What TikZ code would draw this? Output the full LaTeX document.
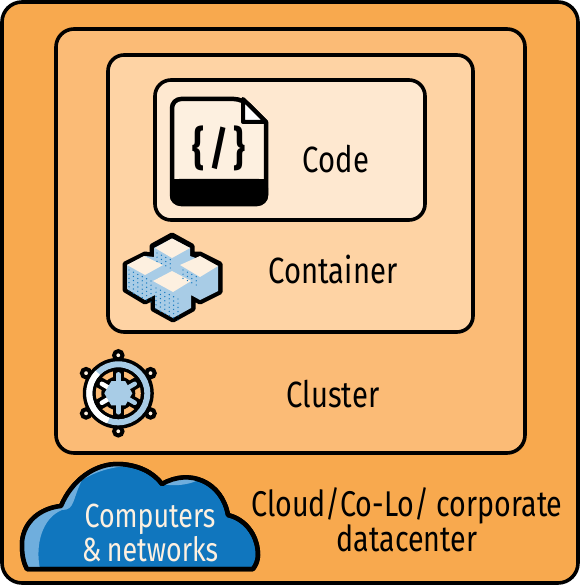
\documentclass[tikz,border=0pt]{standalone}
\usepackage{fontspec}
\usetikzlibrary{calc}
\setmainfont[FakeStretch=0.8]{Fira Sans}
\definecolor{cOuter}{HTML}{F8A94E}
\definecolor{cCluster}{HTML}{FBBB76}
\definecolor{cContainer}{HTML}{FED3A4}
\definecolor{cCode}{HTML}{FEE8D0}
\definecolor{cCream}{HTML}{FDF0E0}
\definecolor{cIce}{HTML}{A8CCE6}
\definecolor{cBlue}{HTML}{1076BE}
\definecolor{cDither}{HTML}{6FAEDD}
\tikzset{
  panel/.style={draw=black,line width=3.6pt,rounded corners=#1},
  lbl/.style={font=\fontsize{36.5}{38}\selectfont,text=black,inner sep=0pt,align=center},
  cubetop/.style={fill=cCream},
  knob/.style={draw=black,line width=4pt,fill=cCream},
  spoke/.style={line width=11pt,draw=black},
  spokein/.style={line width=4.5pt,draw=cIce,line cap=round}
}
\begin{document}
\begin{tikzpicture}[x=1pt,y=-1pt]
\useasboundingbox (0,0) rectangle (581,585);
\fill[white] (0,0) rectangle (581,585);
\draw[panel=20pt,fill=cOuter] (2,2) rectangle (578,583);
\draw[panel=18pt,fill=cCluster] (56,29) rectangle (525,453);
\draw[panel=16pt,fill=cContainer] (108,55) rectangle (473,332);
\draw[panel=16pt,fill=cCode] (155,80) rectangle (425,220);
% document icon
\draw[fill=cCream,draw=black,line width=4.5pt,line join=round,rounded corners=9pt]
  (172,179) -- (172,99) -- (243,99) [sharp corners] -- (266,122) [rounded corners=9pt] -- (266,204) -- (172,204) -- cycle;
\fill[black,rounded corners=9pt] (170,179) -- (268,179) -- (268,205) -- (170,205) -- cycle;
\fill[black] (170,179) rectangle (268,190);
\draw[fill=white,draw=black,line width=4pt,line join=round] (243,99) -- (243,122) -- (266,122) -- cycle;
\node[inner sep=0pt,font=\fontsize{46}{48}\selectfont\bfseries] (codeglyph) at (219,148) {\{\hspace{5pt}/\hspace{5pt}\}};
\node[lbl] (code) at (336,159) {Code};
\node[lbl] (container) at (333,269) {Container};
\node[lbl] (cluster) at (333,394) {Cluster};
% container icon
\fill[black,line join=round,draw=black,line width=5pt]
 (172,235)--(192,246)--(192,254)--(200,254)--(220,264)--(220,292)--(200,302)--(193,298)--(193,309)--(173,320)--(153,309)--(153,298)--(145,302)--(125,290)--(125,264)--(145,254)--(152,255)--(152,246)--cycle;
\fill[cIce] (172,238.5)--(190,248)--(190,256)--(218,266)--(218,291)--(200,300)--(191,295)--(191,308)--(173,318)--(155,308)--(155,295)--(145,300)--(127,289)--(127,265)--(145,256)--(154,257)--(154,248)--cycle;
\fill[cubetop] (172,238.5)--(190,248)--(172,258)--(155,248)--cycle;
\fill[cubetop] (144,256)--(163,265)--(145,275)--(127,265)--cycle;
\fill[cubetop] (200,256)--(218,266)--(200,277)--(180,265)--cycle;
\fill[cubetop] (172,271)--(191,281)--(173,292)--(153,281)--cycle;
\foreach \x in {0,...,5}\foreach \y in {0,...,5}{
  \fill[cBlue] ({129+\x*4.4},{270+\y*4.2+\x*2.2}) circle (0.7pt);
  \fill[cBlue] ({156+\x*4.4},{288+\y*4.2+\x*2.2}) circle (0.7pt);
}
\foreach \x in {0,...,3}\foreach \y in {0,...,2}{
  \fill[cBlue] ({157+\x*4.4},{253+\y*4.2+\x*2.2}) circle (0.7pt);
  \fill[cBlue] ({183+\x*4.4},{270+\y*4.2+\x*2.2}) circle (0.7pt);
}
% wheel icon
\coordinate (w) at (118.3,393.3);
\foreach \a in {90,32,-32,-90,212,148}{
  \draw[knob] (w) ++(\a:38) circle (4.2pt);
}
\fill[black] (w) circle (35.5pt);
\draw[cIce,line width=6pt] (w) circle (29pt);
\draw[white,line width=6pt] ($(w)+(110:29)$) arc (110:225:29);
\fill[black] (w) circle (25.5pt);
\fill[cCluster] (w) circle (22.5pt);
\foreach \a in {90,30,-30,-90,210,150}{
  \draw[spoke] (w) -- ++(\a:24);
}
\fill[black] (w) circle (17pt);
\foreach \a in {90,30,-30,-90}{\draw[spokein] (w) -- ++(\a:19);}
\foreach \a in {210,150}{\draw[white,line width=4.5pt,line cap=round] (w) -- ++(\a:19);}
\fill[cIce] (w) ++(0:14) -- ++(120:14) -- ++(180:14) -- ++(240:14) -- ++(300:14) -- ++(0:14) -- cycle;
% cloud
\draw[fill=cBlue,draw=black,line width=4.5pt,line join=round]
 (27,569) .. controls (22,560) and (22,550) .. (22,542)
 .. controls (24,520) and (42,508) .. (61,506)
 .. controls (72,480) and (95,463) .. (120,464)
 .. controls (138,465) and (153,472) .. (162,484)
 .. controls (190,468) and (222,482) .. (228,515)
 .. controls (248,520) and (258,538) .. (258,555)
 .. controls (258,560) and (256,565) .. (253,569) -- cycle;
\begin{scope}
\clip (27,569) .. controls (22,560) and (22,550) .. (22,542)
 .. controls (24,520) and (42,508) .. (61,506)
 .. controls (72,480) and (95,463) .. (120,464)
 .. controls (138,465) and (153,472) .. (162,484)
 .. controls (190,468) and (222,482) .. (228,515) -- (40,570) -- cycle;
\fill[cDither] (25,569) -- (40,569) .. controls (35,545) and (42,518) .. (62,510)
 .. controls (75,510) and (72,500) .. (82,480)
 .. controls (95,472) and (108,468) .. (125,466) -- (120,455) -- (20,500) -- cycle;
\fill[cDither] (162,484) .. controls (175,487) and (190,484) .. (196,481) -- (185,470) -- (160,478) -- cycle;
\end{scope}
\draw[draw=black,line width=4.5pt,line join=round]
 (27,569) .. controls (22,560) and (22,550) .. (22,542)
 .. controls (24,520) and (42,508) .. (61,506)
 .. controls (72,480) and (95,463) .. (120,464)
 .. controls (138,465) and (153,472) .. (162,484)
 .. controls (190,468) and (222,482) .. (228,515)
 .. controls (248,520) and (258,538) .. (258,555)
 .. controls (258,560) and (256,565) .. (253,569) -- cycle;
\node[lbl,text=cCream,font=\fontsize{33.5}{29}\selectfont] (net) at (150,533) {Computers\\\&\,networks};
\node[lbl,font=\fontsize{35.8}{33}\selectfont] (dc) at (407,520) {Cloud/Co-Lo/ corporate\\datacenter};
\end{tikzpicture}
\end{document}
